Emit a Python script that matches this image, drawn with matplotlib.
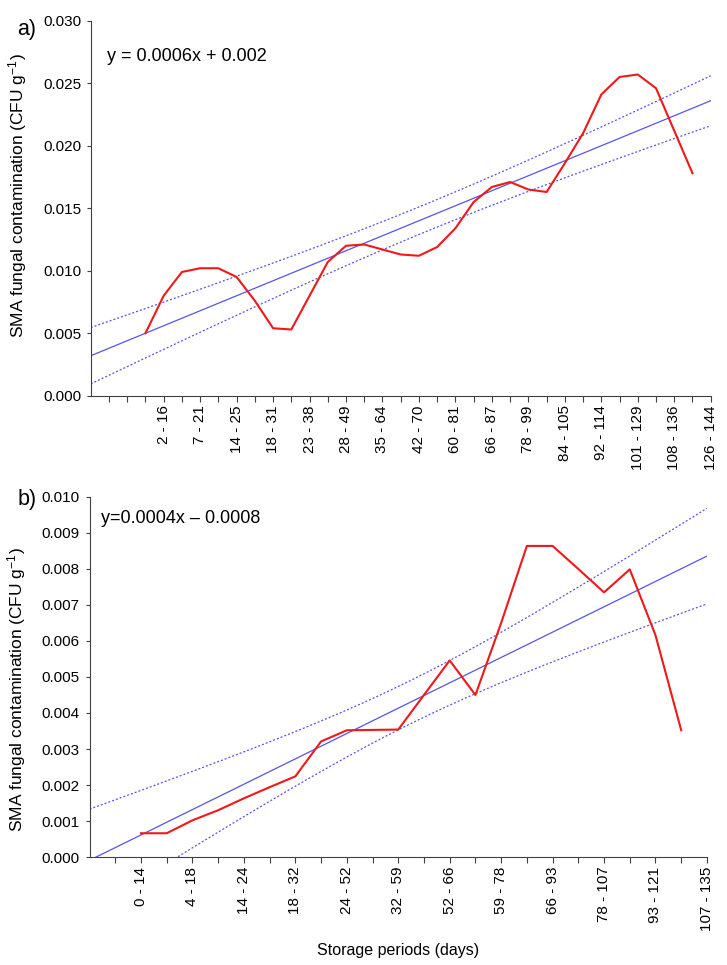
import matplotlib
matplotlib.use('Agg')
import matplotlib.pyplot as plt
import numpy as np
from matplotlib.ticker import FormatStrFormatter

plt.rcParams['font.family'] = ['Liberation Sans', 'DejaVu Sans']
plt.rcParams['mathtext.default'] = 'regular'

# panel a) storage periods and smoothed contamination curve (one point per tick step)
labels_a = ['2 - 16', '7 - 21', '14 - 25', '18 - 31', '23 - 38', '28 - 49', '35 - 64', '42 - 70',
            '60 - 81', '66 - 87', '78 - 99', '84 - 105', '92 - 114', '101 - 129', '108 - 136', '126 - 144']
red_a = [0.0050, 0.0080, 0.0099, 0.0102, 0.0102, 0.0095, 0.0076, 0.0054, 0.0053, 0.0080, 0.0107,
         0.0120, 0.0121, 0.0117, 0.0113, 0.0112, 0.0119, 0.0134, 0.0155, 0.0167, 0.0171, 0.0165,
         0.0163, 0.0186, 0.0210, 0.0241, 0.0255, 0.0257, 0.0246, 0.0212, 0.0178]
red_a_start = 3
# fitted line and confidence band
fit_a = (0.0032, 0.0006)          # value at axis start, slope per step
band_a = (0.0011, 18.4, 1.14e-8)  # narrowest half width, centre, spread

# panel b)
labels_b = ['0 - 14', '4 - 18', '14 - 24', '18 - 32', '24 - 52', '32 - 59', '52 - 66', '59 - 78',
            '66 - 93', '78 - 107', '93 - 121', '107 - 135']
red_b = [0.00066, 0.00066, 0.00102, 0.0013, 0.00163, 0.00194, 0.00224, 0.00321, 0.00352, 0.00353,
         0.00354, 0.0045, 0.00546, 0.0045, 0.0065, 0.00864, 0.00864, 0.0080, 0.00735, 0.00799,
         0.00616, 0.00352]
red_b_start = 2
fit_b = (-0.00009, 0.000352)
band_b = (0.0006, 12.5, 1.062e-8)

RED = '#f01818'
BLUE = '#5555e6'
AX = '#404040'


def panel(ax, labels, first_label, red, red_start, fit, band, ymax, ystep, eq):
    n = first_label + 2 * (len(labels) - 1)
    x = np.linspace(0, n, 300)
    line = fit[0] + fit[1] * x
    hw = np.sqrt(band[0] ** 2 + band[2] * (x - band[1]) ** 2)
    ax.plot(x, line, color=BLUE, lw=0.9)
    ax.plot(x, line + hw, color=BLUE, lw=0.9, ls=(0, (1.6, 1.6)))
    ax.plot(x, line - hw, color=BLUE, lw=0.9, ls=(0, (1.6, 1.6)))
    ax.plot(np.arange(red_start, red_start + len(red)), red, color=RED, lw=1.5)

    ax.set_xlim(0, n)
    ax.set_ylim(0, ymax)
    ticks = np.arange(1, n + 1)
    ax.set_xticks(ticks)
    tl = [''] * len(ticks)
    for i, lab in enumerate(labels):
        tl[first_label + 2 * i - 1] = lab
    ax.set_xticklabels(tl, rotation=90, fontsize=11)
    ax.set_yticks(np.arange(0, ymax + ystep / 2, ystep))
    ax.yaxis.set_major_formatter(FormatStrFormatter('%.3f'))
    ax.tick_params(axis='y', labelsize=11, length=3, width=0.8, color=AX, pad=4)
    ax.tick_params(axis='x', length=4, width=0.8, color=AX, pad=3)
    for s in ['top', 'right']:
        ax.spines[s].set_visible(False)
    for s in ['left', 'bottom']:
        ax.spines[s].set_color(AX)
        ax.spines[s].set_linewidth(0.8)
    ax.set_ylabel('SMA fungal contamination (CFU g$^{-1}$)', fontsize=12.5)
    ax.text(0.027, 0.905, eq, transform=ax.transAxes, fontsize=13, va='center')


fig = plt.figure(figsize=(7.27, 9.65), dpi=100)
ax1 = fig.add_axes([0.1248, 0.5899, 0.8528, 0.3886])
ax2 = fig.add_axes([0.1232, 0.1119, 0.8492, 0.3731])

panel(ax1, labels_a, 4, red_a, red_a_start, fit_a, band_a, 0.030, 0.005, 'y = 0.0006x + 0.002')
panel(ax2, labels_b, 2, red_b, red_b_start, fit_b, band_b, 0.010, 0.001, 'y=0.0004x \u2013 0.0008')
ax1.yaxis.set_label_coords(-0.099, 0.535)
ax2.yaxis.set_label_coords(-0.099, 0.465)
ax2.texts[0].set_position((0.018, 0.94))

fig.text(27 / 727, 1 - 30 / 965, 'a)', fontsize=15.5, ha='center', va='center')
fig.text(27 / 727, 1 - 499 / 965, 'b)', fontsize=15.5, ha='center', va='center')
fig.text(398 / 727, 1 - 950 / 965, 'Storage periods (days)', fontsize=11.5, ha='center', va='center')

fig.savefig('out.png', dpi=100)
